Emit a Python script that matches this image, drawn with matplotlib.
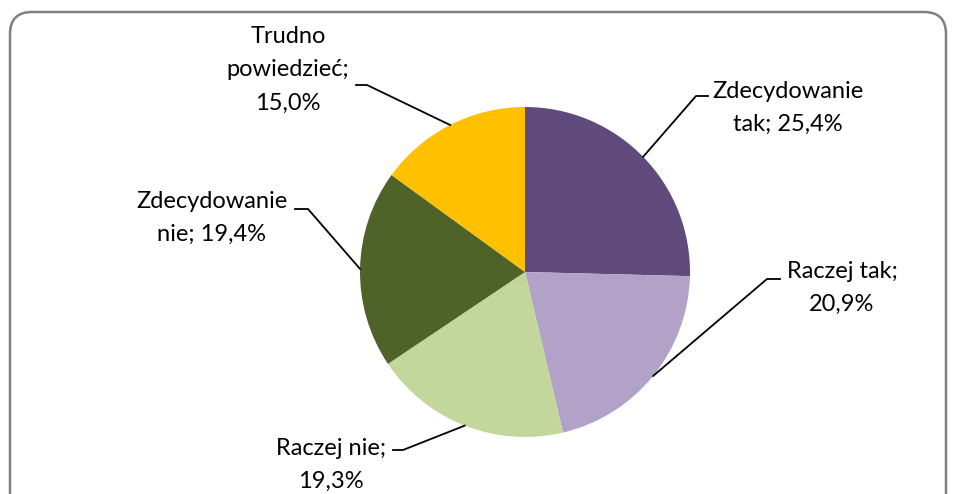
import numpy as np
import matplotlib
matplotlib.use('Agg')
import matplotlib.pyplot as plt
from matplotlib.patches import FancyBboxPatch

plt.rcParams['font.family'] = ['Lato', 'DejaVu Sans']

categories = ['Zdecydowanie tak', 'Raczej tak', 'Raczej nie', 'Zdecydowanie nie', 'Trudno powiedzieć']
values = [25.4, 20.9, 19.3, 19.4, 15.0]
label_texts = ['Zdecydowanie\ntak; 25,4%', 'Raczej tak;\n20,9%', 'Raczej nie;\n19,3%',
               'Zdecydowanie\nnie; 19,4%', 'Trudno\npowiedzieć;\n15,0%']
colors = ['#604A7B', '#B3A2C7', '#C3D69B', '#4F6228', '#FFC000']

# layout in pixel coords (y from bottom): text centre, knee, line end
W, H = 956, 494
cx, cy, R = 525, H - 272, 165
text_pos = [(788, H - 108), (842, H - 288), (331, H - 465), (212, H - 218), (288, H - 70)]
knees = [((696, H - 96), (708, H - 96)),
         ((767, H - 279), (780, H - 279)),
         ((403, H - 450), (393, H - 450)),
         ((308, H - 209), (295, H - 209)),
         ((367, H - 85), (356, H - 85))]

fig = plt.figure(figsize=(W / 100, H / 100), dpi=100)
ax = fig.add_axes([0, 0, 1, 1])

box = FancyBboxPatch((10, -30), W - 20, H - 12 + 30, boxstyle='round,pad=0,rounding_size=22',
                     fc='white', ec='#808080', lw=1.8, zorder=0)
ax.add_patch(box)

wedges, _ = ax.pie(values, colors=colors, startangle=90, counterclock=False,
                   center=(cx, cy), radius=R, frame=True)
ax.set_xlim(0, W)
ax.set_ylim(0, H)
ax.set_aspect('auto')
ax.axis('off')

cum = np.cumsum([0] + values)
for i, v in enumerate(values):
    mid = 90 - (cum[i] + v / 2) / 100 * 360
    px = cx + R * np.cos(np.radians(mid))
    py = cy + R * np.sin(np.radians(mid))
    (kx, ky), (ex, ey) = knees[i]
    ax.plot([px, kx, ex], [py, ky, ey], color='black', lw=1.3, zorder=3)
    tx, ty = text_pos[i]
    ax.text(tx, ty, label_texts[i], ha='center', va='center', fontsize=17,
            linespacing=1.72, color='black')

plt.savefig('out.png', dpi=100)
